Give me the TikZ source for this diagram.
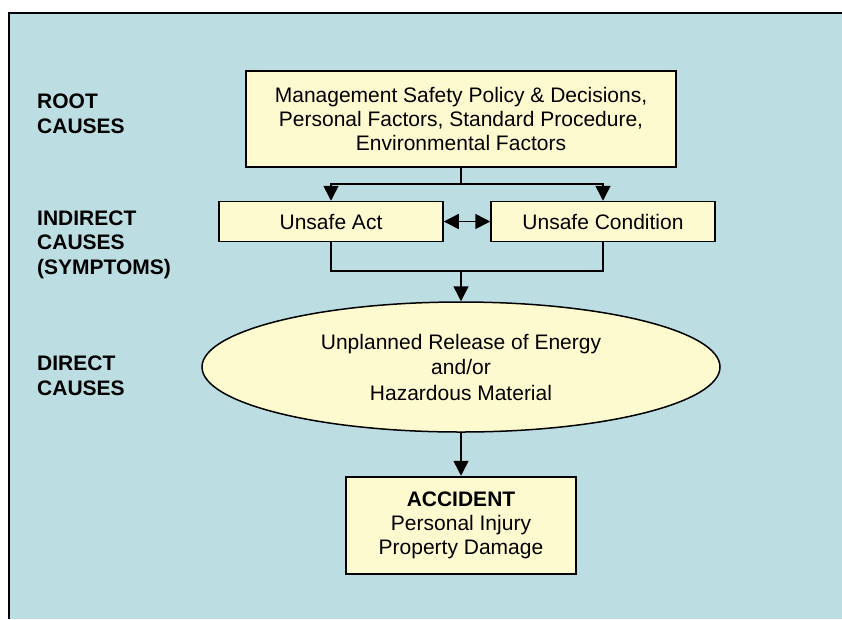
\documentclass[tikz,border=0pt]{standalone}
\usepackage{fontspec}
\setmainfont{Liberation Sans}
\usetikzlibrary{arrows.meta,shapes.geometric}
\definecolor{panelblue}{RGB}{188,222,226}
\definecolor{boxyellow}{RGB}{253,250,208}

\begin{document}
\begin{tikzpicture}[x=1pt,y=-1pt,
  boxtext/.style={font=\fontsize{21}{24}\selectfont, align=center},
  ybox/.style={boxtext, draw=black, fill=boxyellow, rectangle, inner sep=0pt},
  lab/.style={font=\bfseries\fontsize{21}{24.5}\selectfont, align=left, inner sep=0pt, anchor=base west},
  conn/.style={line width=1.5pt},
  tip/.tip={Triangle[length=15pt,width=15pt]},
  arr/.style={conn, -tip},
  dbl/.style={conn, tip-tip}
]
\useasboundingbox (0,0) rectangle (842,619);
% panel background with its top and left rule
\fill[panelblue] (9,13) rectangle (842,619);
\draw[line width=1.5pt] (9,619) -- (9,13) -- (842,13);

% row labels (anchored on the baseline of their last line)
\node[lab] (rootlab) at (37,133) {ROOT\\CAUSES};
\node[lab] (indlab) at (37,274) {INDIRECT\\CAUSES\\(SYMPTOMS)};
\node[lab] (dirlab) at (37,395) {DIRECT\\CAUSES};

% boxes
\node[ybox, line width=2pt, minimum width=430pt, minimum height=96pt] (root) at (461,119)
  {Management Safety Policy \& Decisions,\\Personal Factors, Standard Procedure,\\Environmental Factors};
\node[ybox, line width=1.5pt, minimum width=224pt, minimum height=40pt] (act) at (331,221.5) {Unsafe Act};
\node[ybox, line width=1.5pt, minimum width=224pt, minimum height=40pt] (cond) at (603,221.5) {Unsafe Condition};
\node[ellipse, draw=black, fill=boxyellow, line width=1.5pt, inner sep=0pt,
      minimum width=518pt, minimum height=130pt, boxtext, font=\fontsize{21}{25.5}\selectfont] (energy) at (461,367)
  {Unplanned Release of Energy\\and/or\\Hazardous Material};
\node[ybox, line width=2.5pt, minimum width=230pt, minimum height=97pt] (accident) at (461,525.5)
  {\textbf{ACCIDENT}\\Personal Injury\\Property Damage};

% connectors
\coordinate (split) at (461,184);
\coordinate (join) at (461,271);
\draw[conn] (root.south) -- (split);
\draw[arr] (split) -| (act.north);
\draw[arr] (split) -| (cond.north);
\draw[dbl] (act.east) -- (cond.west);
\draw[conn] (act.south) |- (join);
\draw[conn] (cond.south) |- (join);
\draw[arr] (join) -- (energy.north);
\draw[arr] (energy.south) -- (accident.north);
\end{tikzpicture}
\end{document}
